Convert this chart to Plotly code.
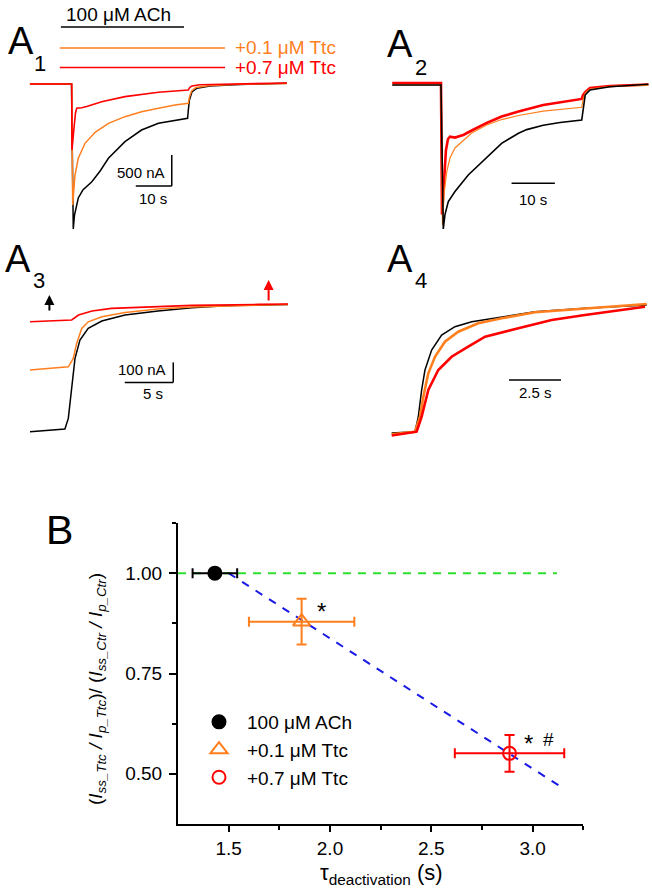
import plotly.graph_objects as go

W, H = 652, 893
FONT = "Liberation Sans, Arial, sans-serif"
BLACK, ORANGE, RED = "#000000", "#FF7F1F", "#FF0000"

# ---------------- data: panel A1 (time s, current nA) ----------------
a1_black_t = [-11.6, -0.05, 0.3, 0.44, 0.78, 1.83, 3.1, 5.6, 7.9, 10.2, 14.8, 19.4, 24.1, 28.7, 32.2, 32.4, 32.7, 33.4, 34.8, 38.4, 46.8, 59.8]
a1_black_i = [0, 0, -1700, -2335, -2109, -1835, -1707, -1573, -1401, -1196, -929, -741, -633, -591, -552, -419, -258, -129, -69, -32, -8, 11]
a1_orange_t = [-11.6, 0, 0.28, 0.92, 1.83, 3.7, 6.5, 10.2, 14.8, 19.4, 24.1, 28.7, 32.4, 32.7, 33.3, 34.5, 38.4, 46.8, 59.8]
a1_orange_i = [0, 0, -1948, -1465, -1196, -955, -778, -633, -526, -446, -391, -338, -311, -209, -113, -56, -24, -5, 8]
a1_red_t = [-11.6, 0, 0.08, 0.36, 0.72, 1.06, 1.39, 2.78, 4.17, 8.33, 14.8, 24.1, 32.4, 32.8, 33.4, 35.6, 46.8, 59.8]
a1_red_i = [0, 0, -1063, -821, -660, -467, -391, -383, -362, -285, -204, -134, -97, -56, -32, -13, 0, 16]
ach_period = [-3.0, 31.2]
ttc_period = [-3.3, 42.6]

# ---------------- data: panel A2 (time s, normalized current) ----------------
a2_black_t = [-11.25, 0, 0.53, 0.92, 1.69, 3.23, 6.3, 10.2, 14.0, 17.9, 19.8, 23.6, 27.5, 32.5, 32.8, 33.3, 34.4, 39.0, 47.9]
a2_black_i = [0, 0, -1.0, -0.90, -0.81, -0.74, -0.625, -0.51, -0.405, -0.335, -0.31, -0.28, -0.26, -0.243, -0.174, -0.07, -0.035, -0.012, 0.005]
a2_orange_t = [-11.25, 0, 0.35, 0.69, 1.32, 2.08, 3.23, 4.0, 5.1, 7.1, 10.55, 14.0, 17.9, 23.6, 32.5, 32.8, 33.3, 34.4, 39.0, 47.9]
a2_orange_i = [0, 0, -0.972, -0.764, -0.604, -0.507, -0.4375, -0.417, -0.382, -0.333, -0.278, -0.24, -0.212, -0.181, -0.155, -0.104, -0.056, -0.028, -0.01, -0.002]
a2_red_t = [-11.25, 0, 0.23, 0.69, 1.15, 1.62, 2.08, 3.23, 5.15, 7.1, 10.55, 14.0, 17.9, 23.6, 32.5, 32.8, 33.3, 34.4, 39.0, 47.9]
a2_red_i = [0.014, 0.014, -0.90, -0.694, -0.451, -0.375, -0.359, -0.365, -0.347, -0.316, -0.264, -0.219, -0.184, -0.139, -0.097, -0.07, -0.049, -0.021, -0.007, 0.003]

# ---------------- data: panel A3 (time s, current nA) ----------------
a3_black_t = [0, 3.6, 3.95, 4.3, 4.64, 5.15, 6.0, 7.4, 9.8, 13.2, 16.7, 20.1, 26.6]
a3_black_i = [-639, -625, -572, -405, -272, -180, -122, -85, -55, -35, -19, -9, -2]
a3_orange_t = [0, 3.95, 4.46, 4.81, 5.33, 6.0, 7.4, 9.8, 13.2, 16.7, 26.6]
a3_orange_i = [-330, -314, -272, -197, -122, -89, -64, -42, -25, -15, -2]
a3_red_t = [0, 4.3, 5.0, 6.4, 8.4, 11.5, 16.7, 23.5, 26.6]
a3_red_i = [-89, -80, -55, -35, -22, -15, -7, -2, 0]
a3_marks_t = [2.0, 24.6]

# ---------------- data: panel A4 (time s, normalized current) ----------------
a4_black_t = [-1.12, 0, 0.16, 0.32, 0.48, 0.80, 1.28, 1.92, 2.73, 4.17, 5.77, 8.17, 11.14]
a4_black_i = [-1.01, -1.0, -0.883, -0.673, -0.517, -0.36, -0.243, -0.178, -0.139, -0.099, -0.06, -0.034, -0.008]
a4_orange_t = [-1.12, 0, 0.24, 0.40, 0.64, 0.96, 1.44, 2.08, 3.04, 4.17, 5.77, 8.17, 11.14]
a4_orange_i = [-1.02, -1.0, -0.883, -0.726, -0.543, -0.413, -0.295, -0.217, -0.151, -0.112, -0.065, -0.034, 0.0]
a4_red_t = [-1.12, 0.08, 0.32, 0.64, 1.12, 1.76, 2.56, 3.37, 4.97, 6.57, 8.17, 9.77, 11.06]
a4_red_i = [-1.03, -1.0, -0.883, -0.673, -0.517, -0.413, -0.334, -0.256, -0.19, -0.125, -0.086, -0.047, -0.021]

# ---------------- data: panel B ----------------
b_labels = ["100 \u03bcM ACh", "+0.1 \u03bcM Ttc", "+0.7 \u03bcM Ttc"]
b_tau = [1.432, 1.86, 2.886]
b_tau_err = [0.11, 0.26, 0.27]
b_ratio = [1.00, 0.879, 0.551]
b_ratio_err = [0.0, 0.057, 0.046]
ref_x = [1.25, 3.12]
ref_y = [1.0, 1.0]
fit_x = [1.5, 3.16]
fit_y = [1.0, 0.461]
b_xticks = [1.5, 2.0, 2.5, 3.0]
b_yticks = [0.50, 0.75, 1.00]


def px(x, y):
    return x / W, 1 - y / H


fig = go.Figure()

panels = [
    ("x", "y", [(a1_black_t, a1_black_i, BLACK, 1.5), (a1_orange_t, a1_orange_i, ORANGE, 1.5), (a1_red_t, a1_red_i, RED, 1.6)]),
    ("x2", "y2", [(a2_red_t, a2_red_i, RED, 2.6), (a2_orange_t, a2_orange_i, ORANGE, 1.2), (a2_black_t, a2_black_i, BLACK, 1.6)]),
    ("x3", "y3", [(a3_black_t, a3_black_i, BLACK, 1.5), (a3_orange_t, a3_orange_i, ORANGE, 1.5), (a3_red_t, a3_red_i, RED, 1.6)]),
    ("x4", "y4", [(a4_black_t, a4_black_i, BLACK, 1.5), (a4_orange_t, a4_orange_i, ORANGE, 2.6), (a4_red_t, a4_red_i, RED, 2.6)]),
]
for xa, ya, trs in panels:
    for t, i, c, w in trs:
        fig.add_trace(go.Scatter(x=t, y=i, mode="lines", line=dict(color=c, width=w),
                                 xaxis=xa, yaxis=ya, showlegend=False, hoverinfo="skip"))

fig.add_trace(go.Scatter(x=ref_x, y=ref_y, mode="lines", line=dict(color="#2EE02E", width=2, dash="8px,7px"),
                         xaxis="x5", yaxis="y5", showlegend=False))
fig.add_trace(go.Scatter(x=fit_x, y=fit_y, mode="lines", line=dict(color="#1A1AE6", width=2, dash="8px,8px"),
                         xaxis="x5", yaxis="y5", showlegend=False))
syms = ["circle", "triangle-up-open", "circle-open"]
cols = [BLACK, ORANGE, RED]
sizes = [13, 15, 13]
for k in range(3):
    fig.add_trace(go.Scatter(
        x=[b_tau[k]], y=[b_ratio[k]], mode="markers", name=b_labels[k],
        marker=dict(symbol=syms[k], color=cols[k], size=sizes[k], line=dict(color=cols[k], width=2)),
        error_x=dict(type="data", array=[b_tau_err[k]], color=cols[k], thickness=2, width=5),
        error_y=dict(type="data", array=[b_ratio_err[k]], color=cols[k], thickness=2, width=5, visible=b_ratio_err[k] > 0),
        xaxis="x5", yaxis="y5", cliponaxis=False))

hidden = dict(visible=False, fixedrange=True)
fig.update_layout(
    width=W, height=H, margin=dict(l=0, r=0, t=0, b=0),
    paper_bgcolor="white", plot_bgcolor="rgba(0,0,0,0)",
    font=dict(family=FONT, color="black", size=19),
    xaxis=dict(domain=[25 / W, 295 / W], range=[-12.97, 62.03], **hidden),
    yaxis=dict(domain=[1 - 235 / H, 1.0], range=[-2431, 1352], anchor="x", **hidden),
    xaxis2=dict(domain=[385 / W, 1.0], range=[-12.93, 48.73], anchor="y2", **hidden),
    yaxis2=dict(domain=[1 - 235 / H, 1 - 75 / H], range=[-1.0417, 0.0694], anchor="x2", **hidden),
    xaxis3=dict(domain=[25 / W, 295 / W], range=[-0.515, 27.32], anchor="y3", **hidden),
    yaxis3=dict(domain=[1 - 445 / H, 1 - 275 / H], range=[-705, 145], anchor="x3", **hidden),
    xaxis4=dict(domain=[385 / W, 1.0], range=[-1.442, 11.394], anchor="y4", **hidden),
    yaxis4=dict(domain=[1 - 445 / H, 1 - 290 / H], range=[-1.1041, 0.1096], anchor="x4", **hidden),
    xaxis5=dict(domain=[178 / W, 583.3 / W], range=[1.25, 3.25], anchor="y5",
                showline=True, linecolor="black", linewidth=2, showgrid=False, zeroline=False,
                ticks="outside", ticklen=6, tickwidth=2, tickcolor="black",
                tickvals=b_xticks, ticktext=[f"{v:.1f}" for v in b_xticks],
                tickfont=dict(size=19), ticklabelstandoff=0,
                minor=dict(ticks="outside", ticklen=4, tickwidth=2, tickcolor="black",
                           tickvals=[1.75, 2.25, 2.75, 3.25])),
    yaxis5=dict(domain=[1 - 824 / H, 1 - 523 / H], range=[0.375, 1.125], anchor="x5",
                showline=True, linecolor="black", linewidth=2, showgrid=False, zeroline=False,
                ticks="outside", ticklen=7, tickwidth=2, tickcolor="black",
                tickvals=b_yticks, ticktext=[f"{v:.2f}" for v in b_yticks],
                tickfont=dict(size=19), ticklabelstandoff=3,
                minor=dict(ticks="outside", ticklen=4, tickwidth=2, tickcolor="black",
                           tickvals=[0.625, 0.875, 1.125])),
    legend=dict(x=(219 - 28) / W, y=1 - 703 / H, xanchor="left", yanchor="top",
                bgcolor="rgba(0,0,0,0)", borderwidth=0, itemwidth=46,
                font=dict(size=19, family=FONT), tracegroupgap=0),
)

shapes = []
ann = []


def A(**kw):
    kw.setdefault("xanchor", "center")
    kw.setdefault("yanchor", "middle")
    kw.setdefault("showarrow", False)
    ann.append(kw)


# solution application bars (A1)
for (t0, t1), yy, c in [(ach_period, 27, BLACK), (ttc_period, 48, ORANGE), (ttc_period, 67.5, RED)]:
    shapes.append(dict(type="line", xref="x", yref="paper", x0=t0, x1=t1, y0=1 - yy / H, y1=1 - yy / H,
                       line=dict(color=c, width=1.6)))
A(xref="x", yref="paper", x=sum(ach_period) / 2 - 1.0, y=1 - 15 / H, text="100 \u03bcM ACh", font=dict(size=19, color=BLACK))
A(xref="paper", yref="paper", x=233 / W, y=1 - 48 / H, xanchor="left", text="+0.1 \u03bcM Ttc", font=dict(size=19, color=ORANGE))
A(xref="paper", yref="paper", x=233 / W, y=1 - 67.5 / H, xanchor="left", text="+0.7 \u03bcM Ttc", font=dict(size=19, color=RED))

# scale bars
SB = dict(color="black", width=1.5)
shapes.append(dict(type="line", xref="x", yref="y", x0=27.8, x1=27.8, y0=-1643, y1=-1143, line=SB))
shapes.append(dict(type="line", xref="x", yref="y", x0=17.8, x1=27.8, y0=-1643, y1=-1643, line=SB))
A(xref="x", yref="y", x=27.8, y=-1393, xanchor="right", xshift=-5, yshift=-2, text="500 nA", font=dict(size=15))
A(xref="x", yref="y", x=22.5, y=-1643, yshift=-12, text="10 s", font=dict(size=15))
shapes.append(dict(type="line", xref="x2", yref="y2", x0=16.3, x1=26.3, y0=-0.683, y1=-0.683, line=SB))
A(xref="x2", yref="y2", x=21.3, y=-0.683, yshift=-16, text="10 s", font=dict(size=15))
shapes.append(dict(type="line", xref="x3", yref="y3", x0=14.77, x1=14.77, y0=-392, y1=-292, line=SB))
shapes.append(dict(type="line", xref="x3", yref="y3", x0=9.77, x1=14.77, y0=-392, y1=-392, line=SB))
A(xref="x3", yref="y3", x=14.77, y=-342, xanchor="right", xshift=-5, yshift=3, text="100 nA", font=dict(size=15))
A(xref="x3", yref="y3", x=12.7, y=-392, yshift=-11, text="5 s", font=dict(size=15))
shapes.append(dict(type="line", xref="x4", yref="y4", x0=4.52, x1=7.02, y0=-0.595, y1=-0.595, line=SB))
A(xref="x4", yref="y4", x=5.77, y=-0.595, yshift=-13, text="2.5 s", font=dict(size=15))

# A3 arrows
ann.append(dict(xref="x3", yref="y3", x=a3_marks_t[0], y=45, ax=0, ay=17, text="", showarrow=True,
                arrowhead=2, arrowsize=1.0, arrowwidth=2, arrowcolor=BLACK))
ann.append(dict(xref="x3", yref="y3", x=a3_marks_t[1], y=120, ax=0, ay=22, text="", showarrow=True,
                arrowhead=2, arrowsize=1.0, arrowwidth=2, arrowcolor=RED))

# panel labels
for big, sub, (bx, by), (sx, sy) in [("A", "1", (21, 41.5), (40, 63)), ("A", "2", (400, 44), (421, 67)),
                                     ("A", "3", (18, 259), (39, 280)), ("A", "4", (400, 258.5), (421, 280))]:
    x, y = px(bx, by)
    A(xref="paper", yref="paper", x=x, y=y, text=big, font=dict(size=38))
    x, y = px(sx, sy)
    A(xref="paper", yref="paper", x=x, y=y, text=sub, font=dict(size=22))
x, y = px(59.5, 530)
A(xref="paper", yref="paper", x=x, y=y, text="B", font=dict(size=41))

# significance marks
A(xref="x5", yref="y5", x=1.96, y=0.905, text="*", font=dict(size=24))
A(xref="x5", yref="y5", x=2.98, y=0.575, text="*", font=dict(size=24))
A(xref="x5", yref="y5", x=3.08, y=0.585, text="#", font=dict(size=19))

# axis titles
x, y = px(97, 689)
A(xref="paper", yref="paper", x=x, y=y, textangle=-90, font=dict(size=19),
  text="(<i>I</i><sub><i>ss_Ttc</i></sub><i> / I</i><sub><i>p_Ttc</i></sub>)/ "
       "(<i>I</i><sub><i>ss_Ctr</i></sub><i> / I</i><sub><i>p_Ctr</i></sub>)")
x, y = px(381, 874)
A(xref="paper", yref="paper", x=x, y=y, font=dict(size=22), text="\u03c4<sub>deactivation</sub> (s)")

fig.update_layout(shapes=shapes, annotations=ann)
fig.write_html("out.html", config={"displayModeBar": False},
               post_script="document.body.style.margin='0';document.body.style.overflow='hidden';")
